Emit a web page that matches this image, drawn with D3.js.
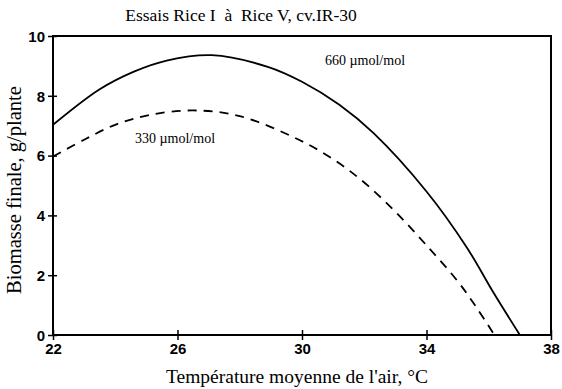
<!DOCTYPE html>
<html>
<head>
<meta charset="utf-8">
<script src="https://cdn.jsdelivr.net/npm/d3@7"></script>
<style>
  body { margin: 0; background: #fff; }
  svg { display: block; }
</style>
</head>
<body>
<svg id="chart" width="562" height="389"></svg>
<script>
const xTicks = [22, 26, 30, 34, 38];
const yTicks = [0, 2, 4, 6, 8, 10];

// 660 umol/mol CO2 (solid)
const temp660 = [22, 23.5, 24.6, 25.65, 27.1, 28.9, 30.0, 31.2, 32.3, 34.0, 35.3, 36.15, 37.0];
const bio660  = [7.03, 8.22, 8.81, 9.18, 9.36, 8.97, 8.47, 7.7, 6.75, 4.8, 2.92, 1.42, 0];

// 330 umol/mol CO2 (dashed)
const temp330 = [22, 23.0, 24.0, 25.1, 26.5, 28.0, 29.9, 31.0, 32.0, 33.0, 34.0, 35.0, 35.6, 36.18];
const bio330  = [5.97, 6.53, 7.03, 7.36, 7.51, 7.32, 6.53, 5.88, 5.1, 4.12, 3.0, 1.8, 0.93, 0];

const svg = d3.select('#chart');
const plotL = 53, plotR = 551, plotT = 36, plotB = 335;

const x = d3.scaleLinear().domain([22, 38]).range([plotL, plotR]);
const y = d3.scaleLinear().domain([0, 10]).range([plotB, plotT]);

const serif = 'Liberation Serif, Times New Roman, serif';
const sans = 'Liberation Sans, Arial, sans-serif';

// frame
svg.append('rect')
    .attr('x', plotL).attr('y', plotT)
    .attr('width', plotR - plotL).attr('height', plotB - plotT)
    .attr('fill', 'none').attr('stroke', '#000').attr('stroke-width', 2);

// x axis
const xAxis = svg.append('g')
    .attr('transform', `translate(0,${plotB})`)
    .call(d3.axisBottom(x).tickValues(xTicks).tickSize(5).tickPadding(3));
xAxis.select('.domain').remove();
xAxis.selectAll('.tick line').attr('y1', -5).attr('stroke-width', 1.5);
xAxis.selectAll('text')
    .attr('font-family', sans).attr('font-weight', 'bold').attr('font-size', 15);

// y axis
const yAxis = svg.append('g')
    .attr('transform', `translate(${plotL},0)`)
    .call(d3.axisLeft(y).tickValues(yTicks).tickSize(5).tickPadding(3));
yAxis.select('.domain').remove();
yAxis.selectAll('.tick line').attr('x1', 4).attr('x2', -5).attr('stroke-width', 1.5);
yAxis.selectAll('text')
    .attr('font-family', sans).attr('font-weight', 'bold').attr('font-size', 15)
    .attr('dy', '0.35em');

const line = d3.line()
    .x(d => x(d[0]))
    .y(d => y(d[1]))
    .curve(d3.curveCatmullRom.alpha(0.5));

svg.append('path')
    .datum(d3.zip(temp660, bio660))
    .attr('d', line)
    .attr('fill', 'none').attr('stroke', '#000').attr('stroke-width', 1.8);

svg.append('path')
    .datum(d3.zip(temp330, bio330))
    .attr('d', line)
    .attr('fill', 'none').attr('stroke', '#000').attr('stroke-width', 1.8)
    .attr('stroke-dasharray', '9,7');

// curve labels
svg.append('text')
    .attr('x', 325).attr('y', 65)
    .attr('font-family', serif).attr('font-size', 14)
    .text('660 µmol/mol');
svg.append('text')
    .attr('x', 135).attr('y', 143)
    .attr('font-family', serif).attr('font-size', 14)
    .text('330 µmol/mol');

// title
svg.append('text')
    .attr('x', 241).attr('y', 21)
    .attr('text-anchor', 'middle')
    .attr('font-family', serif).attr('font-size', 17.5)
    .style('white-space', 'pre')
    .text('Essais Rice I  à  Rice V, cv.IR-30');

// axis titles
svg.append('text')
    .attr('x', 297).attr('y', 383)
    .attr('text-anchor', 'middle')
    .attr('font-family', serif).attr('font-size', 19.5)
    .text("Température moyenne de l'air, °C");

svg.append('text')
    .attr('transform', 'translate(21,190) rotate(-90)')
    .attr('text-anchor', 'middle')
    .attr('font-family', serif).attr('font-size', 20.5)
    .text('Biomasse finale, g/plante');
</script>
</body>
</html>
